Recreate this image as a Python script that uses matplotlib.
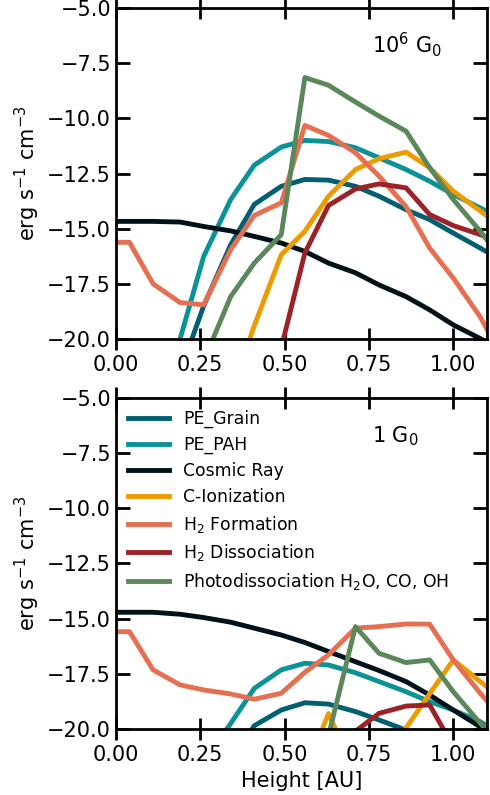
import matplotlib
matplotlib.use("Agg")
import matplotlib.pyplot as plt

# height grid [AU]
height = [0.0, 0.04, 0.11, 0.19, 0.26, 0.34, 0.41, 0.49, 0.56, 0.63,
          0.71, 0.78, 0.86, 0.93, 1.00, 1.08, 1.15]

# log10 heating/cooling rates, strong field (10^6 G0)
pe_grain_hi = [-30, -30, -30, -21.5, -18.5, -15.73, -13.9, -13.08, -12.77, -12.8,
               -13.08, -13.53, -14.14, -14.59, -15.2, -15.88, -16.5]
pe_pah_hi = [-30, -30, -26, -20.0, -16.26, -13.68, -12.12, -11.3, -11.0, -11.05,
             -11.33, -11.79, -12.32, -12.85, -13.45, -14.06, -14.6]
cosmic_hi = [-14.67, -14.67, -14.67, -14.7, -14.9, -15.1, -15.35, -15.65, -16.03, -16.56,
             -17.0, -17.55, -18.08, -18.68, -19.36, -19.98, -20.6]
c_ion_hi = [-30, -30, -30, -30, -30, -22.5, -19.4, -16.18, -15.12, -13.53,
            -12.32, -11.83, -11.53, -12.24, -13.3, -14.2, -15.0]
h2_form_hi = [-15.62, -15.62, -17.5, -18.35, -18.45, -15.95, -14.4, -13.83, -10.32, -10.77,
              -11.56, -12.62, -14.0, -15.88, -17.24, -19.0, -21.0]
h2_diss_hi = [-30, -30, -30, -30, -30, -30, -26, -20.4, -16.1, -13.95,
              -13.2, -12.97, -13.15, -14.36, -14.86, -15.27, -15.7]
photo_hi = [-30, -30, -30, -26, -21, -18.08, -16.56, -15.27, -8.15, -8.5,
            -9.26, -9.9, -10.58, -12.24, -13.68, -15.12, -16.5]

# weak field (1 G0)
pe_grain_lo = [-30, -30, -30, -30, -30, -21.5, -19.85, -19.14, -18.81, -18.87,
               -19.21, -19.59, -20.05, -20.6, -21.5, -22.5, -23.5]
pe_pah_lo = [-30, -30, -30, -30, -21.5, -19.75, -18.16, -17.32, -17.02, -17.1,
             -17.45, -17.85, -18.31, -18.76, -19.14, -19.67, -20.3]
cosmic_lo = [-14.71, -14.71, -14.71, -14.8, -14.95, -15.16, -15.43, -15.74, -16.08, -16.49,
             -16.95, -17.35, -17.85, -18.46, -19.14, -19.9, -20.6]
c_ion_lo = [-30, -30, -30, -30, -30, -30, -30, -30, -22, -19.3,
            -22, -22, -19.95, -18.4, -16.87, -17.85, -18.7]
h2_form_lo = [-15.59, -15.59, -17.32, -18.0, -18.23, -18.41, -18.65, -18.38, -17.43, -16.64,
              -15.43, -15.36, -15.24, -15.25, -16.87, -18.38, -19.6]
h2_diss_lo = [-30, -30, -30, -30, -30, -30, -30, -30, -30, -26,
              -20.1, -19.29, -18.96, -18.91, -20.8, -25, -30]
photo_lo = [-30, -30, -30, -30, -30, -30, -30, -30, -26, -20.3,
            -15.36, -16.57, -16.99, -16.87, -18.31, -19.74, -21.0]

labels = ["PE_Grain", "PE_PAH", "Cosmic Ray", "C-Ionization",
          r"H$_2$ Formation", r"H$_2$ Dissociation",
          r"Photodissociation H$_2$O, CO, OH"]
colors = ["#005f73", "#0a9396", "#001219", "#ee9b00",
          "#e76f51", "#9b2226", "#5b875b"]

panels = [
    ([pe_grain_hi, pe_pah_hi, cosmic_hi, c_ion_hi, h2_form_hi, h2_diss_hi, photo_hi],
     r"10$^6$ G$_0$"),
    ([pe_grain_lo, pe_pah_lo, cosmic_lo, c_ion_lo, h2_form_lo, h2_diss_lo, photo_lo],
     r"1 G$_0$"),
]

fig = plt.figure(figsize=(4.9, 7.95), dpi=100)
ax_top = fig.add_axes([0.2367, 0.5736, 0.7572, 0.4163])
ax_bot = fig.add_axes([0.2367, 0.0830, 0.7572, 0.4164])

for ax, (series, field) in zip([ax_top, ax_bot], panels):
    for y, lab, c in zip(series, labels, colors):
        ax.plot(height, y, color=c, lw=3.5, label=lab)
    ax.set_xlim(0, 1.1)
    ax.set_ylim(-20, -5)
    ax.set_xticks([0.0, 0.25, 0.5, 0.75, 1.0])
    ax.set_yticks([-20, -17.5, -15, -12.5, -10, -7.5, -5])
    ax.set_xticklabels(["0.00", "0.25", "0.50", "0.75", "1.00"])
    ax.set_yticklabels(["\u221220.0", "\u221217.5", "\u221215.0", "\u221212.5",
                        "\u221210.0", "\u22127.5", "\u22125.0"])
    ax.tick_params(axis="x", direction="inout", length=16, width=2,
                   top=True, labelsize=15)
    ax.tick_params(axis="y", direction="in", length=10, width=2,
                   right=True, labelsize=15)
    for s in ax.spines.values():
        s.set_linewidth(2)
    ax.set_ylabel(r"erg s$^{-1}$ cm$^{-3}$", fontsize=15)
    ax.text(0.69, 0.866, field, transform=ax.transAxes, fontsize=15,
            ha="left", va="baseline")

ax_bot.set_xlabel("Height [AU]", fontsize=15)
ax_bot.legend(loc="upper left", frameon=False, fontsize=12.4,
              handlelength=2.4, borderaxespad=0.3, labelspacing=0.45)

fig.savefig("out.png", dpi=100)
